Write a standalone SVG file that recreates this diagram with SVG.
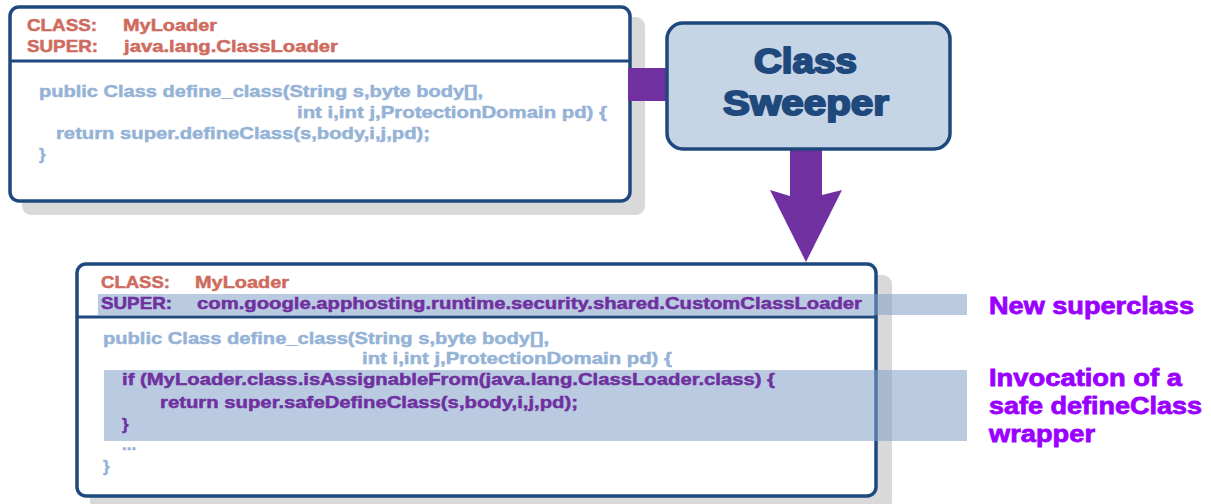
<svg xmlns="http://www.w3.org/2000/svg" width="1211" height="504" viewBox="0 0 1211 504">
<style>
.t{font-family:"Liberation Sans",Arial,sans-serif;font-weight:bold;font-size:17px;stroke-width:0.5}
.hdr{fill:#CF6B5E;stroke:#CF6B5E}
.code{fill:#95B3D7;stroke:#95B3D7}
.pur{fill:#7030A0;stroke:#7030A0}
.lbl{font-family:"Liberation Sans",Arial,sans-serif;font-weight:bold;font-size:24px;fill:#9900FF;stroke:#9900FF;stroke-width:0.8}
.box{fill:#FFFFFF;stroke:#1F497D;stroke-width:3.5}
.shadow{fill:#D9D9D9}
.div{stroke:#1F497D;stroke-width:3}
.band{fill:#7F9FC8;fill-opacity:0.55}
.conn{fill:#7030A0}
.sw{font-family:"Liberation Sans",Arial,sans-serif;font-weight:bold;font-size:35px;fill:#1F497D;stroke:#1F497D;stroke-width:2;stroke-linejoin:round}
</style>
<rect width="1211" height="504" fill="#FFFFFF"/>

<g id="original-class">
  <rect class="shadow" x="22" y="17" width="623" height="198" rx="9"/>
  <rect class="box" x="10" y="7" width="620" height="194" rx="9"/>
  <line class="div" x1="10" y1="61" x2="630" y2="61"/>
  <text class="t hdr" x="27" y="31" textLength="70" lengthAdjust="spacingAndGlyphs">CLASS:</text>
  <text class="t hdr" x="123" y="31" textLength="94" lengthAdjust="spacingAndGlyphs">MyLoader</text>
  <text class="t hdr" x="27" y="52" textLength="71" lengthAdjust="spacingAndGlyphs">SUPER:</text>
  <text class="t hdr" x="124" y="52" textLength="214" lengthAdjust="spacingAndGlyphs">java.lang.ClassLoader</text>
  <text class="t code" x="39" y="97" textLength="444" lengthAdjust="spacingAndGlyphs">public Class define_class(String s,byte body[],</text>
  <text class="t code" x="297" y="118" textLength="310" lengthAdjust="spacingAndGlyphs">int i,int j,ProtectionDomain pd) {</text>
  <text class="t code" x="56" y="139" textLength="374" lengthAdjust="spacingAndGlyphs">return super.defineClass(s,body,i,j,pd);</text>
  <text class="t code" x="39" y="160">}</text>
</g>

<g id="connectors">
  <rect class="conn" x="628" y="68" width="41" height="33"/>
  <polygon class="conn" points="790,146 822,146 822,195 842,190 806,262 770,190 790,196"/>
</g>

<g id="class-sweeper">
  <rect x="667" y="23" width="283" height="126" rx="16" fill="#C6D5E6" stroke="#1F497D" stroke-width="3.5"/>
  <text class="sw" x="754" y="73" textLength="103" lengthAdjust="spacingAndGlyphs">Class</text>
  <text class="sw" x="723" y="115" textLength="166" lengthAdjust="spacingAndGlyphs">Sweeper</text>
</g>

<g id="rewritten-class">
  <rect class="shadow" x="90" y="275" width="802" height="235" rx="9"/>
  <rect class="box" x="77" y="264" width="799" height="232" rx="9"/>
  <line class="div" x1="77" y1="317" x2="876" y2="317"/>
  <rect class="band" x="98" y="294" width="869" height="21"/>
  <rect class="band" x="104" y="370" width="863" height="71"/>
  <text class="t hdr" x="101" y="288" textLength="69" lengthAdjust="spacingAndGlyphs">CLASS:</text>
  <text class="t hdr" x="195" y="288" textLength="94" lengthAdjust="spacingAndGlyphs">MyLoader</text>
  <text class="t pur" x="101" y="309" textLength="71" lengthAdjust="spacingAndGlyphs">SUPER:</text>
  <text class="t pur" x="197" y="309" textLength="665" lengthAdjust="spacingAndGlyphs">com.google.apphosting.runtime.security.shared.CustomClassLoader</text>
  <text class="t code" x="103" y="344" textLength="446" lengthAdjust="spacingAndGlyphs">public Class define_class(String s,byte body[],</text>
  <text class="t code" x="362" y="364" textLength="310" lengthAdjust="spacingAndGlyphs">int i,int j,ProtectionDomain pd) {</text>
  <text class="t pur" x="122" y="385" textLength="653" lengthAdjust="spacingAndGlyphs">if (MyLoader.class.isAssignableFrom(java.lang.ClassLoader.class) {</text>
  <text class="t pur" x="160" y="408" textLength="418" lengthAdjust="spacingAndGlyphs">return super.safeDefineClass(s,body,i,j,pd);</text>
  <text class="t pur" x="122" y="430">}</text>
  <text class="t code" x="122" y="450">...</text>
  <text class="t code" x="103" y="472">}</text>
</g>

<g id="labels">
  <text class="lbl" x="989" y="314" textLength="205" lengthAdjust="spacingAndGlyphs">New superclass</text>
  <text class="lbl" x="989" y="386" textLength="193" lengthAdjust="spacingAndGlyphs">Invocation of a</text>
  <text class="lbl" x="989" y="414" textLength="213" lengthAdjust="spacingAndGlyphs">safe defineClass</text>
  <text class="lbl" x="989" y="442" textLength="106" lengthAdjust="spacingAndGlyphs">wrapper</text>
</g>
</svg>
